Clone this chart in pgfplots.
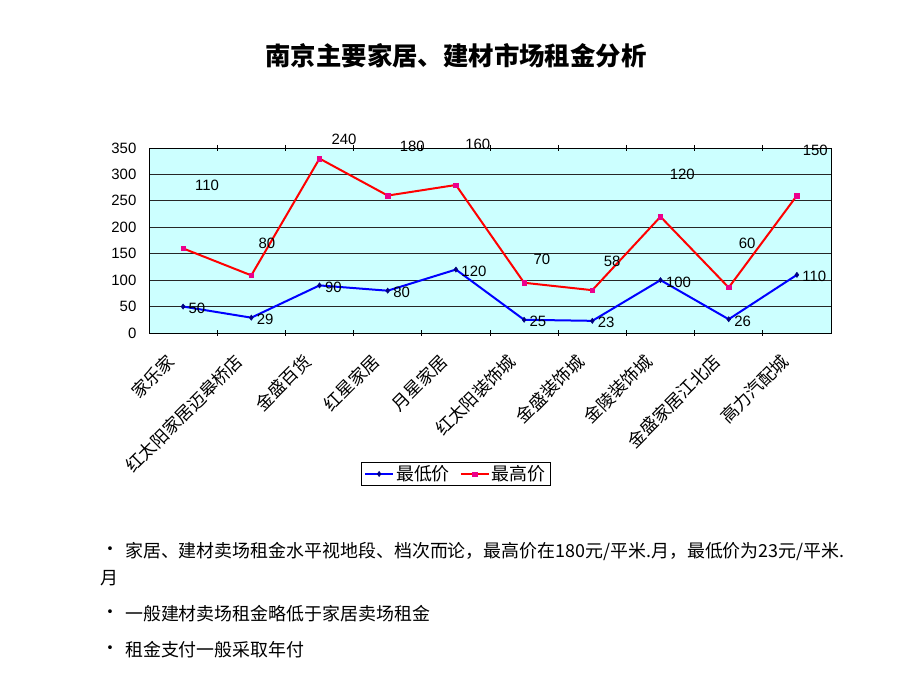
\documentclass[border=0pt]{standalone}
\usepackage{fontspec}
\setmainfont{Liberation Sans}
\newfontfamily\cjk{Noto Sans CJK SC}
\usepackage{pgfplots}
\usepackage{pgfplotstable}
\pgfplotsset{compat=1.18}
\definecolor{plotbg}{HTML}{CCFFFF}
\definecolor{navy}{HTML}{000080}
% rent, yuan per square metre per month; the upper line is stacked on the lower
\pgfplotstableread{
x low high
0 50  110
1 29  80
2 90  240
3 80  180
4 120 160
5 25  70
6 23  58
7 100 120
8 26  60
9 110 150
}\rent
\begin{document}
\begin{tikzpicture}[x=1bp,y=1bp]
\useasboundingbox (0,0) rectangle (920,690);
% title
\node[font=\cjk\bfseries\fontsize{25.5}{30}\selectfont] at (456,634) {南京主要家居、建材市场租金分析};
\begin{axis}[
    at={(149bp,357bp)}, anchor=south west,
    scale only axis, width=682bp, height=185bp,
    xmin=-0.5, xmax=9.5, ymin=0, ymax=350,
    clip=false,
    axis background/.style={fill=plotbg},
    axis line style={black, line width=0.8bp},
    ymajorgrids, grid style={black!85, line width=0.9bp},
    ytick distance=50,
    ytick style={draw=none},
    xtick={0,...,9},
    xticklabels={家乐家,红太阳家居迈皋桥店,金盛百货,红星家居,月星家居,红太阳装饰城,金盛装饰城,金陵装饰城,金盛家居江北店,高力汽配城},
    major x tick style={draw=none},
    minor xtick={0.5,1.5,...,8.5},
    minor tick length=6bp, tick align=center,
    minor x tick style={black, line width=0.8bp},
    xticklabel style={font=\cjk\fontsize{17.5}{20}\selectfont, rotate=45, anchor=east, xshift=-21bp, yshift=-8bp},
    yticklabel style={font=\fontsize{15}{18}\selectfont, xshift=-7bp},
    /pgf/number format/assume math mode=true,
    legend style={at={(0.45,-0.762)}, anchor=center, legend columns=2,
        font=\cjk\fontsize{18}{21}\selectfont, draw=black, line width=0.8bp,
        inner ysep=1bp,
        /tikz/every even column/.append style={column sep=8bp}},
    legend cell align=left,
    legend image code/.code={
      \draw[mark repeat=2, mark phase=2, #1] plot coordinates {(0bp,0bp) (14bp,0bp) (28bp,0bp)};},
  ]
  \addplot[color=blue, line width=2bp, mark=diamond*,
      mark options={fill=navy, draw=navy, line width=0.5bp}, mark size=2.6bp,
      nodes near coords,
      every node near coord/.append style={font=\fontsize{15}{18}\selectfont, text=black, anchor=west, xshift=2bp, yshift=-2bp}]
    table[x=x, y=low] {\rent};
  \addlegendentry{最低价}
  \addplot[color=red, line width=2bp, mark=square*,
      mark options={fill=magenta, draw=magenta, line width=0.5bp}, mark size=2.2bp]
    table[x=x, y expr=\thisrow{low}+\thisrow{high}] {\rent};
  \addlegendentry{最高价}
  % labels of the upper series, where the original chart put them
  \begin{scope}[every node/.style={font=\fontsize{15}{18}\selectfont}]
    \node at (axis cs:0.35,280) {110};
    \node at (axis cs:1.23,170) {80};
    \node at (axis cs:2.36,367) {240};
    \node at (axis cs:3.36,353) {180};
    \node at (axis cs:4.32,357) {160};
    \node at (axis cs:5.26,140) {70};
    \node at (axis cs:6.29,136) {58};
    \node at (axis cs:7.32,301) {120};
    \node at (axis cs:8.27,170) {60};
    \node at (axis cs:9.27,346) {150};
  \end{scope}
\end{axis}
% notes
\begin{scope}[every node/.style={anchor=west, inner sep=0pt, font=\cjk\fontsize{18}{21}\selectfont}]
  \node at (101,139) {•};
  \node at (125,139) {家居、建材卖场租金水平视地段、档次而论，最高价在180元/平米.月，最低价为23元/平米.};
  \node at (100,112) {月};
  \node at (101,76) {•};
  \node at (125,76) {一般建材卖场租金略低于家居卖场租金};
  \node at (101,40) {•};
  \node at (125,40) {租金支付一般采取年付};
\end{scope}
\end{tikzpicture}
\end{document}
